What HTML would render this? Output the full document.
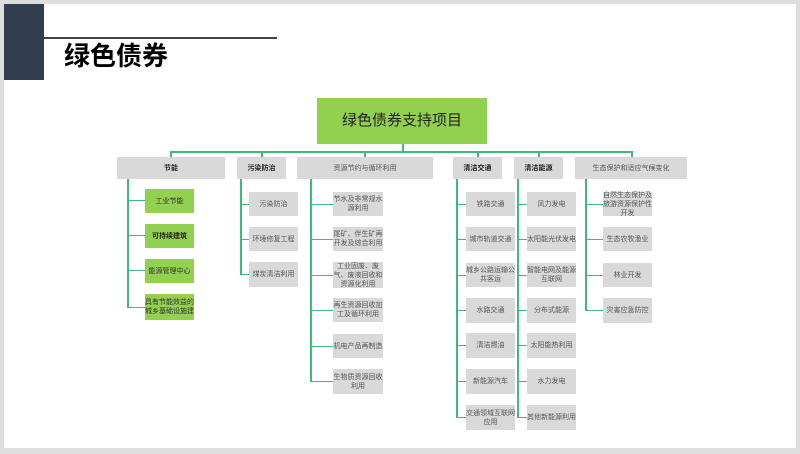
<!DOCTYPE html>
<html><head><meta charset="utf-8"><style>
*{margin:0;padding:0;box-sizing:border-box}
body{width:800px;height:454px;background:#dedede;position:relative;overflow:hidden;font-family:"Liberation Sans","Noto Sans CJK SC",sans-serif}
#pg{position:absolute;left:4px;top:4px;width:792px;height:444px;background:#fff}
.a{position:absolute}
.b{position:absolute;background:#d9d9d9;color:#555;font-size:7px;line-height:9px;display:flex;align-items:center;justify-content:center;text-align:center;padding:0}
.g{background:#92d050;color:#333}
.h{position:absolute;background:#3dbb7a}
.bo{font-weight:bold;color:#222}
</style></head><body>
<div id="pg"></div>
<div class="a" style="left:4px;top:4px;width:40px;height:76px;background:#323e4f"></div>
<div class="a" style="left:44px;top:37px;width:233px;height:2px;background:#444"></div>
<div class="a" style="left:64px;top:40px;font-size:26px;font-weight:bold;color:#000;line-height:32px">绿色债券</div>

<div class="b g" style="left:317px;top:98px;width:170px;height:46px;font-size:15px;line-height:18px;color:#222">绿色债券支持项目</div>
<div class="h" style="left:402px;top:144px;width:2px;height:8px"></div>
<div class="h" style="left:170px;top:151px;width:463px;height:2px"></div>
<div class="h" style="left:170px;top:151px;width:2px;height:6px"></div>
<div class="h" style="left:261px;top:151px;width:2px;height:6px"></div>
<div class="h" style="left:364px;top:151px;width:2px;height:6px"></div>
<div class="h" style="left:477px;top:151px;width:2px;height:6px"></div>
<div class="h" style="left:538px;top:151px;width:2px;height:6px"></div>
<div class="h" style="left:631px;top:151px;width:2px;height:6px"></div>

<div class="b bo" style="left:117px;top:157px;width:108px;height:22px">节能</div>
<div class="b bo" style="left:237px;top:157px;width:49px;height:22px">污染防治</div>
<div class="b" style="left:297px;top:157px;width:136px;height:22px">资源节约与循环利用</div>
<div class="b bo" style="left:453px;top:157px;width:49px;height:22px">清洁交通</div>
<div class="b bo" style="left:514px;top:157px;width:49px;height:22px">清洁能源</div>
<div class="b" style="left:575px;top:157px;width:112px;height:22px">生态保护和适应气候变化</div>

<!-- cat1 -->
<div class="h" style="left:127px;top:179px;width:2px;height:129px"></div>
<div class="h" style="left:127px;top:200px;width:18px;height:1px"></div>
<div class="h" style="left:127px;top:235px;width:18px;height:1px"></div>
<div class="h" style="left:127px;top:270px;width:18px;height:1px"></div>
<div class="h" style="left:127px;top:307px;width:18px;height:1px"></div>
<div class="b g" style="left:145px;top:189px;width:49px;height:24px">工业节能</div>
<div class="b g bo" style="left:145px;top:224px;width:49px;height:24px">可持续建筑</div>
<div class="b g" style="left:145px;top:259px;width:49px;height:24px">能源管理中心</div>
<div class="b g" style="left:145px;top:294px;width:49px;height:26px">具有节能效益的城乡基础设施建</div>

<!-- cat2 -->
<div class="h" style="left:240px;top:179px;width:2px;height:96px"></div>
<div class="h" style="left:240px;top:204px;width:9px;height:1px"></div>
<div class="h" style="left:240px;top:239px;width:9px;height:1px"></div>
<div class="h" style="left:240px;top:274px;width:9px;height:1px"></div>
<div class="b" style="left:249px;top:192px;width:49px;height:24px">污染防治</div>
<div class="b" style="left:249px;top:227px;width:49px;height:24px">环境修复工程</div>
<div class="b" style="left:249px;top:262px;width:49px;height:25px">煤炭清洁利用</div>

<!-- cat3 -->
<div class="h" style="left:310px;top:179px;width:2px;height:203px"></div>
<div class="h" style="left:310px;top:204px;width:23px;height:1px"></div>
<div class="h" style="left:310px;top:239px;width:23px;height:1px"></div>
<div class="h" style="left:310px;top:275px;width:23px;height:1px"></div>
<div class="h" style="left:310px;top:310px;width:23px;height:1px"></div>
<div class="h" style="left:310px;top:346px;width:23px;height:1px"></div>
<div class="h" style="left:310px;top:381px;width:23px;height:1px"></div>
<div class="b" style="left:333px;top:192px;width:50px;height:24px">节水及非常规水源利用</div>
<div class="b" style="left:333px;top:227px;width:50px;height:24px">尾矿、伴生矿再开发及综合利用</div>
<div class="b" style="left:333px;top:262px;width:50px;height:26px">工业固废、废气、废液回收和资源化利用</div>
<div class="b" style="left:333px;top:298px;width:50px;height:24px">再生资源回收加工及循环利用</div>
<div class="b" style="left:333px;top:334px;width:50px;height:24px">机电产品再制造</div>
<div class="b" style="left:333px;top:369px;width:50px;height:25px">生物质资源回收利用</div>

<!-- cat4 -->
<div class="h" style="left:456px;top:179px;width:2px;height:239px"></div>
<div class="h" style="left:456px;top:204px;width:10px;height:1px"></div>
<div class="h" style="left:456px;top:239px;width:10px;height:1px"></div>
<div class="h" style="left:456px;top:275px;width:10px;height:1px"></div>
<div class="h" style="left:456px;top:310px;width:10px;height:1px"></div>
<div class="h" style="left:456px;top:345px;width:10px;height:1px"></div>
<div class="h" style="left:456px;top:381px;width:10px;height:1px"></div>
<div class="h" style="left:456px;top:417px;width:10px;height:1px"></div>
<div class="b" style="left:466px;top:192px;width:49px;height:24px">铁路交通</div>
<div class="b" style="left:466px;top:227px;width:49px;height:24px">城市轨道交通</div>
<div class="b" style="left:466px;top:263px;width:49px;height:24px">城乡公路运输公共客运</div>
<div class="b" style="left:466px;top:298px;width:49px;height:25px">水路交通</div>
<div class="b" style="left:466px;top:333px;width:49px;height:25px">清洁燃油</div>
<div class="b" style="left:466px;top:369px;width:49px;height:25px">新能源汽车</div>
<div class="b" style="left:466px;top:405px;width:49px;height:25px">交通领域互联网应用</div>

<!-- cat5 -->
<div class="h" style="left:517px;top:179px;width:2px;height:239px"></div>
<div class="h" style="left:517px;top:204px;width:10px;height:1px"></div>
<div class="h" style="left:517px;top:239px;width:10px;height:1px"></div>
<div class="h" style="left:517px;top:275px;width:10px;height:1px"></div>
<div class="h" style="left:517px;top:310px;width:10px;height:1px"></div>
<div class="h" style="left:517px;top:345px;width:10px;height:1px"></div>
<div class="h" style="left:517px;top:381px;width:10px;height:1px"></div>
<div class="h" style="left:517px;top:417px;width:10px;height:1px"></div>
<div class="b" style="left:527px;top:192px;width:49px;height:24px">风力发电</div>
<div class="b" style="left:527px;top:227px;width:49px;height:24px">太阳能光伏发电</div>
<div class="b" style="left:527px;top:263px;width:49px;height:24px">智能电网及能源互联网</div>
<div class="b" style="left:527px;top:298px;width:49px;height:25px">分布式能源</div>
<div class="b" style="left:527px;top:333px;width:49px;height:25px">太阳能热利用</div>
<div class="b" style="left:527px;top:369px;width:49px;height:25px">水力发电</div>
<div class="b" style="left:527px;top:405px;width:49px;height:25px">其他新能源利用</div>

<!-- cat6 -->
<div class="h" style="left:585px;top:179px;width:2px;height:132px"></div>
<div class="h" style="left:585px;top:204px;width:18px;height:1px"></div>
<div class="h" style="left:585px;top:239px;width:18px;height:1px"></div>
<div class="h" style="left:585px;top:275px;width:18px;height:1px"></div>
<div class="h" style="left:585px;top:310px;width:18px;height:1px"></div>
<div class="b" style="left:603px;top:192px;width:49px;height:24px">自然生态保护及旅游资源保护性开发</div>
<div class="b" style="left:603px;top:227px;width:49px;height:24px">生态农牧渔业</div>
<div class="b" style="left:603px;top:263px;width:49px;height:24px">林业开发</div>
<div class="b" style="left:603px;top:298px;width:49px;height:25px">灾害应急防控</div>
</body></html>
